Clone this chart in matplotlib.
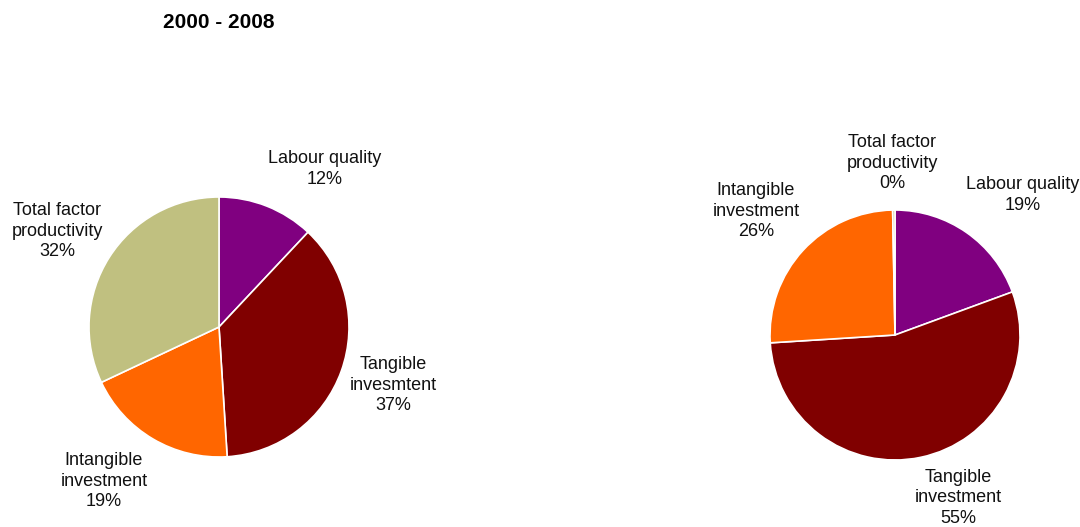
import matplotlib.pyplot as plt

plt.rcParams['font.family'] = ['Liberation Sans', 'DejaVu Sans']

# contributions to growth, percent
names_left = ['Labour quality', 'Tangible\ninvesmtent', 'Intangible\ninvestment', 'Total factor\nproductivity']
shares_left = [12, 37, 19, 32]
names_right = ['Labour quality', 'Tangible\ninvestment', 'Intangible\ninvestment', 'Total factor\nproductivity']
shares_right = [19.4, 54.6, 25.7, 0.3]
colors = ['#800080', '#800000', '#FF6600', '#C0C080']

# label centres in pixels (x, y from top)
pos_left = [(325, 169), (393, 385), (104, 481), (57, 231)]
pos_right = [(1023, 195), (958, 498), (756, 211), (892, 163)]

W, H = 1080, 527
fig = plt.figure(figsize=(10.8, 5.27), dpi=100)

def draw(cx, cy, r, shares, names, pos):
    ax = fig.add_axes([(cx - r) / W, (H - cy - r) / H, 2 * r / W, 2 * r / H])
    ax.pie(shares, colors=colors, startangle=90, counterclock=False,
           wedgeprops=dict(edgecolor='white', linewidth=1.2))
    ax.set_xlim(-1, 1)
    ax.set_ylim(-1, 1)
    ax.set_aspect('equal')
    for v, name, (x, y) in zip(shares, names, pos):
        fig.text(x / W, 1 - y / H, '%s\n%d%%' % (name, round(v)),
                 ha='center', va='center', fontsize=13, linespacing=1.3,
                 color='#111111')

draw(219, 327, 130, shares_left, names_left, pos_left)
draw(895, 335, 125, shares_right, names_right, pos_right)

fig.text(219 / W, 1 - 22 / H, '2000 - 2008', ha='center', va='center',
         fontsize=15, fontweight='bold')

fig.savefig('out.png', dpi=100)
